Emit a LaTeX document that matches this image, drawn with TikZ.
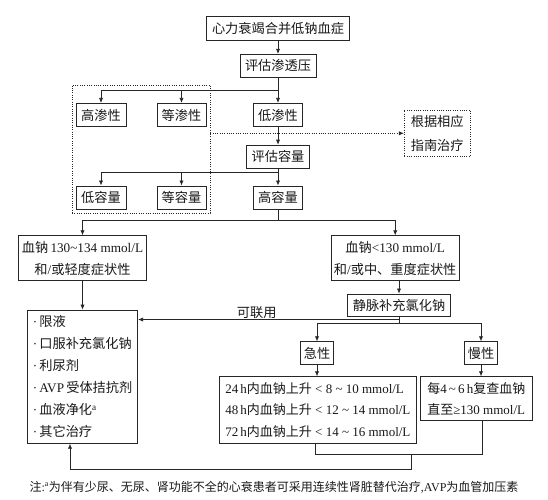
\documentclass[tikz,border=0pt]{standalone}
\usepackage{fontspec}
\setmainfont{Liberation Serif}
\newfontfamily\cjk{Noto Sans CJK SC}
\usetikzlibrary{arrows.meta}
\newcommand\zh[1]{{\cjk #1}}
\newcommand\fsz{\fontsize{13.2pt}{21.7pt}\selectfont}
\begin{document}
\begin{tikzpicture}[x=1pt,y=-1pt,
 box/.style={draw=black!85, line width=0.75pt, inner sep=0pt, font=\fsz, text=black!90},
 line/.style={draw=black!85, line width=0.7pt},
 arr/.style={line, -{Latex[length=5pt,width=4.2pt]}},
 dots/.style={draw=black!85, line width=0.8pt, dash pattern=on 1pt off 1.3pt},
]
\useasboundingbox[fill=white] (0,0) rectangle (548,499);

% top part
\node[box, minimum width=143.5pt, minimum height=24pt] (n1) at (278,28) {\zh{心力衰竭合并低钠血症}};
\node[box, minimum width=76pt, minimum height=23pt] (n2) at (278,65.8) {\zh{评估渗透压}};
\node[box, minimum width=50pt, minimum height=23.4pt] (h1) at (101,115) {\zh{高渗性}};
\node[box, minimum width=49pt, minimum height=23.4pt] (h2) at (181.5,115) {\zh{等渗性}};
\node[box, minimum width=49pt, minimum height=23.4pt] (h3) at (278,115) {\zh{低渗性}};
\node[box, minimum width=63pt, minimum height=23.3pt] (v0) at (278,156.7) {\zh{评估容量}};
\node[box, minimum width=50pt, minimum height=23pt] (v1) at (101,197.4) {\zh{低容量}};
\node[box, minimum width=49pt, minimum height=23pt] (v2) at (181.5,197.4) {\zh{等容量}};
\node[box, minimum width=49pt, minimum height=23pt] (v3) at (278,197.4) {\zh{高容量}};
\node[dots, minimum width=138pt, minimum height=128.3pt, inner sep=0pt] (grp) at (141,149.2) {};
\node[box, dots, align=center, font=\fontsize{13.2pt}{23.3pt}\selectfont, minimum width=65.7pt, minimum height=46.7pt] (guide) at (437.2,133.3) {\zh{根据相应}\\\zh{指南治疗}};

% middle
\node[box, align=center, minimum width=128.4pt, minimum height=45pt] (L) at (82.5,258.2) {\zh{血钠}\,130\textasciitilde134 mmol/L\\\zh{和}/\zh{或轻度症状性}};
\node[box, align=center, minimum width=128.3pt, minimum height=45pt] (R) at (395.2,258.2) {\zh{血钠}<130 mmol/L\\\zh{和}/\zh{或中、重度症状性}};
\node[box, minimum width=102.3pt, minimum height=22pt] (iv) at (399,305) {\zh{静脉补充氯化钠}};
\node[font=\fsz, inner sep=0pt, text=black!90] (lbl) at (256.7,312.7) {\zh{可联用}};
\node[box, minimum width=33.4pt, minimum height=22.6pt] (ac) at (317,353) {\zh{急性}};
\node[box, minimum width=33.4pt, minimum height=22.6pt] (ch) at (481,353) {\zh{慢性}};

% lower
\node[box, align=left, minimum width=197.7pt, minimum height=66.6pt, font=\fontsize{13pt}{21.2pt}\selectfont] (A) at (317.85,410)
 {24\,h\zh{内血钠上升} < 8 \textasciitilde{} 10 mmol/L\\48\,h\zh{内血钠上升} < 12 \textasciitilde{} 14 mmol/L\\72\,h\zh{内血钠上升} < 14 \textasciitilde{} 16 mmol/L};
\node[box, align=left, minimum width=111.3pt, minimum height=44pt, font=\fontsize{13pt}{21pt}\selectfont] (B) at (476.35,398.7)
 {\zh{每}4\,\textasciitilde\,6\,h\zh{复查血钠}\\\zh{直至}≥130 mmol/L};
\node[box, align=left, text width=99.4pt, inner xsep=5.5pt, minimum height=133.3pt, font=\fontsize{13.2pt}{22.1pt}\selectfont] (list) at (82.5,376.7)
 {·\,\zh{限液}\\·\,\zh{口服补充氯化钠}\\·\,\zh{利尿剂}\\·\,AVP\,\zh{受体拮抗剂}\\·\,\zh{血液净化}\textsuperscript{a}\\·\,\zh{其它治疗}};

\node[font=\fontsize{12pt}{14pt}\selectfont, inner sep=0pt, text=black!90] (note) at (274,487)
 {\zh{注}:\textsuperscript{a}\zh{为伴有少尿、无尿、肾功能不全的心衰患者可采用连续性肾脏替代治疗},AVP\zh{为血管加压素}};

% connectors
\draw[arr] (n1) -- (n2);
\coordinate (b1) at (278,90);
\draw[line] (n2.south) -- (b1);
\draw[arr] (b1) -| (h1.north);
\draw[arr] (b1) -| (h2.north);
\draw[arr] (b1) -- (h3.north);
\draw[arr] (h3) -- (v0);
\coordinate (b2) at (278,172.3);
\draw[line] (v0.south) -- (b2);
\draw[arr] (b2) -| (v1.north);
\draw[arr] (b2) -| (v2.north);
\draw[arr] (b2) -- (v3.north);
\coordinate (b3) at (278,220.7);
\draw[line] (v3.south) -- (b3);
\draw[arr] (b3) -| (L.north);
\draw[arr] (b3) -| (R.north);
\draw[dots, -{Latex[length=5pt,width=4.2pt]}] (grp.east |- guide.west) -- (guide.west);

\draw[arr] (iv.north |- R.south) -- (iv.north);
\coordinate (k1) at (399,319.5);
\coordinate (k2) at (399,323.3);
\draw[line] (iv.south) -- (k2);
\draw[arr] (k1) -- (k1 -| list.east);
\draw[arr] (k2) -| (ac.north);
\draw[arr] (k2) -| (ch.north);
\draw[arr] (L) -- (list);
\draw[arr] (ac) -- (ac |- A.north);
\draw[arr] (ch) -- (ch |- B.north);

\coordinate (m1) at (315,454);
\coordinate (m2) at (482.7,454);
\coordinate (m3) at (411.7,454);
\coordinate (m4) at (411.7,469.3);
\coordinate (m5) at (70,469.3);
\draw[line] (m1 |- A.south) -- (m1) -- (m2) -- (m2 |- B.south);
\draw[arr] (m3) -- (m4) -- (m5) -- (m5 |- list.south);
\end{tikzpicture}
\end{document}
